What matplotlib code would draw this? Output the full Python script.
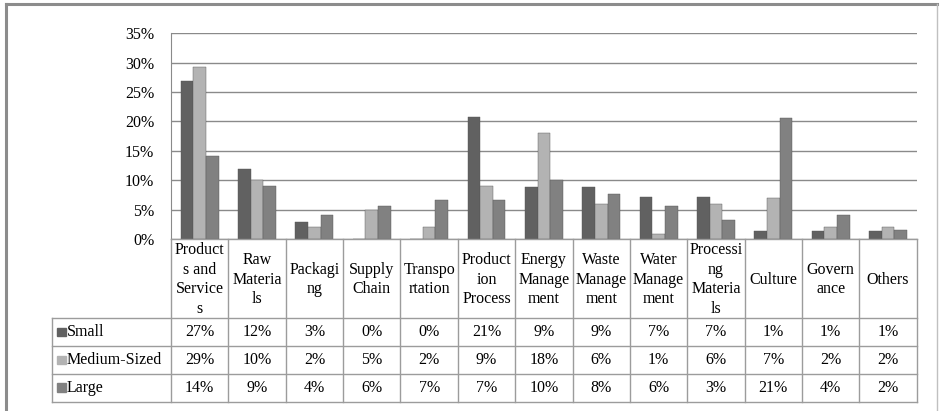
import matplotlib
matplotlib.use("Agg")
import matplotlib.pyplot as plt
from matplotlib.patches import Rectangle
from matplotlib.lines import Line2D
from matplotlib.ticker import FuncFormatter
import numpy as np

plt.rcParams['font.family'] = ['Liberation Serif', 'DejaVu Serif']
plt.rcParams['font.size'] = 11.5

# categories as wrapped in the header row of the data table
categories = ["Product\ns and\nService\ns", "Raw\nMateria\nls", "Packagi\nng",
              "Supply\nChain", "Transpo\nrtation", "Product\nion\nProcess",
              "Energy\nManage\nment", "Waste\nManage\nment", "Water\nManage\nment",
              "Processi\nng\nMateria\nls", "Culture", "Govern\nance", "Others"]

series_names = ["Small", "Medium-Sized", "Large"]
small = [26.8, 11.9, 2.9, 0.0, 0.0, 20.8, 8.8, 8.8, 7.2, 7.2, 1.4, 1.4, 1.4]
medium = [29.2, 10.0, 2.0, 4.9, 2.0, 9.0, 18.0, 6.0, 0.9, 6.0, 7.0, 2.0, 2.0]
large = [14.1, 9.0, 4.0, 5.7, 6.6, 6.6, 10.0, 7.6, 5.7, 3.3, 20.6, 4.0, 1.6]
series = [small, medium, large]
colors = ["#616161", "#b3b3b3", "#818181"]

W, H = 945, 411
fig = plt.figure(figsize=(W / 100, H / 100), dpi=100)

# pixel layout
ax_l, ax_r, ax_t, ax_b = 171, 916.7, 33.3, 239
tab_l, tab_b = 51.7, 401.7

ax = fig.add_axes([ax_l / W, (H - ax_b) / H, (ax_r - ax_l) / W, (ax_b - ax_t) / H])
x = np.arange(len(categories))
bw = 0.22
for k, (vals, c) in enumerate(zip(series, colors)):
    ax.bar(x + (k - 1) * bw, vals, width=bw, color=c, edgecolor="#555555",
           linewidth=0.3, zorder=3)

ax.set_xlim(-0.5, len(categories) - 0.5)
ax.set_ylim(0, 35)
ax.set_yticks(np.arange(0, 36, 5))
ax.yaxis.set_major_formatter(FuncFormatter(lambda v, p: f"{v:.0f}%"))
ax.set_xticks([])
ax.tick_params(axis="y", length=0, pad=12, labelsize=11.5)
ax.grid(axis="y", color="#8a8a8a", linewidth=1, zorder=0)
for s in ["top", "right", "bottom"]:
    ax.spines[s].set_visible(False)
ax.spines["left"].set_color("#8a8a8a")

# data table below the plot
unit = (ax_r - ax_l) / len(categories)
tab_w = ax_r - tab_l
tab_h = tab_b - ax_b
tax = fig.add_axes([tab_l / W, (H - tab_b) / H, tab_w / W, tab_h / H])
left_x = len(categories) - 0.5 - tab_w / unit
tax.set_xlim(left_x, len(categories) - 0.5)
tax.set_ylim(tab_h, 0)
tax.axis("off")

lc = "#9c9c9c"
head_h = 79.3
row_h = (tab_h - head_h) / 3
xr = len(categories) - 0.5
tax.plot([-0.5, xr], [0, 0], color=lc, lw=1, clip_on=False)
for r in range(4):
    yy = head_h + r * row_h
    tax.plot([left_x, xr], [yy, yy], color=lc, lw=1, clip_on=False)
tax.plot([left_x, left_x], [head_h, tab_h], color=lc, lw=1, clip_on=False)
for i in range(len(categories) + 1):
    tax.plot([i - 0.5, i - 0.5], [0, tab_h], color=lc, lw=1, clip_on=False)

for i, cat in enumerate(categories):
    tax.text(i, head_h / 2 + 1, cat, ha="center", va="center", linespacing=1.3)

for r, (name, vals, c) in enumerate(zip(series_names, series, colors)):
    yc = head_h + (r + 0.5) * row_h
    sq = 8.5 / unit
    tax.add_patch(Rectangle((left_x + 5.5 / unit, yc - 4.5), sq, 8.5, color=c,
                            clip_on=False))
    tax.text(left_x + 15 / unit, yc, name, ha="left", va="center")
    for i, v in enumerate(vals):
        tax.text(i, yc, f"{round(v)}%", ha="center", va="center")

# chart border
fig.add_artist(Line2D([6 / W, 6 / W], [0, 1 - 4 / H], color="#8c8c8c", lw=2.2,
                      transform=fig.transFigure))
fig.add_artist(Line2D([6 / W, 937 / W], [1 - 4 / H, 1 - 4 / H], color="#8c8c8c",
                      lw=2.2, transform=fig.transFigure))
fig.add_artist(Line2D([937 / W, 937 / W], [0, 1 - 4 / H], color="#c0c0c0", lw=1,
                      transform=fig.transFigure))

fig.savefig("out.png", dpi=100)
